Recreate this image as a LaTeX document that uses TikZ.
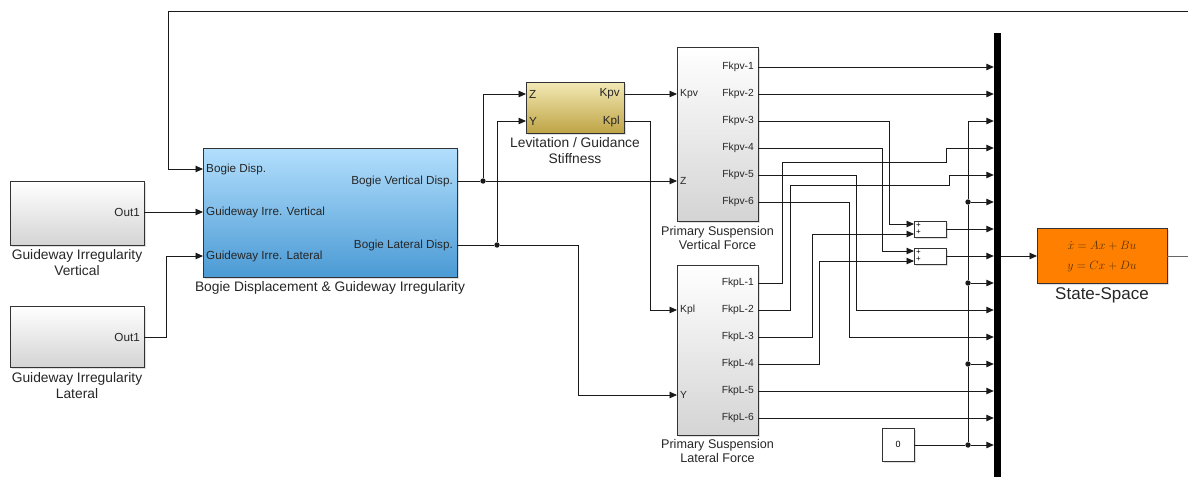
\documentclass[tikz,border=0pt]{standalone}
\usepackage{fontspec}
\setmainfont{Liberation Sans}
\usetikzlibrary{arrows.meta,shadows,calc}
\definecolor{wirec}{HTML}{1A1A1A}
\definecolor{edgec}{HTML}{333333}
\definecolor{grayTop}{HTML}{FFFFFF}
\definecolor{grayBot}{HTML}{D4D4D4}
\definecolor{blueTop}{HTML}{B3DFFD}
\definecolor{blueBot}{HTML}{4A9AD4}
\definecolor{yelTop}{HTML}{F2E9B4}
\definecolor{yelBot}{HTML}{BFA446}
\definecolor{ssOrange}{HTML}{FF8000}
\definecolor{eqc}{HTML}{5A3200}
\definecolor{txtc}{HTML}{262626}
\newcommand\portfont{\fontsize{11.7}{13}\selectfont}
\newcommand\fkfont{\fontsize{10.3}{12}\selectfont}
\newcommand\lblfont{\fontsize{13.8}{16.2}\selectfont}
\begin{document}
\begin{tikzpicture}[x=1pt,y=-1pt,
  blk/.style={draw=edgec, line width=0.9pt, inner sep=0pt, outer sep=0pt,
    drop shadow={shadow xshift=1.5pt, shadow yshift=-1.5pt, opacity=0.25}},
  graybox/.style={blk, top color=grayTop, bottom color=grayBot},
  bluebox/.style={blk, top color=blueTop, bottom color=blueBot},
  yelbox/.style={blk, top color=yelTop, bottom color=yelBot},
  orbox/.style={blk, fill=ssOrange},
  whitebox/.style={blk, fill=white},
  wire/.style={draw=wirec, line width=0.9pt, -{Triangle[length=7.5pt,width=6.5pt]}},
  line/.style={draw=wirec, line width=0.9pt},
  dot/.style={circle, fill=wirec, inner sep=0pt, minimum size=5.4pt},
  pin/.style={inner sep=0pt, anchor=west, text=txtc, font=\portfont},
  pout/.style={inner sep=0pt, anchor=east, text=txtc, font=\portfont},
  fkout/.style={inner sep=0pt, anchor=east, text=txtc, font=\fkfont},
  lbl/.style={inner sep=0pt, anchor=north, align=center, text=txtc, font=\lblfont}
]
\useasboundingbox (0,0) rectangle (1188,477);

% ---------------- blocks ----------------
\node[graybox, minimum width=134pt, minimum height=64pt] (gvert) at (77,213) {};
\node[graybox, minimum width=134pt, minimum height=61pt] (glat) at (77,336.5) {};
\node[bluebox, minimum width=254pt, minimum height=129pt] (bogie) at (330,212.5) {};
\node[yelbox, minimum width=98pt, minimum height=51pt] (lev) at (575,107.5) {};
\node[graybox, minimum width=81pt, minimum height=174pt] (pv) at (717.5,134) {};
\node[graybox, minimum width=81pt, minimum height=170pt] (pl) at (717.5,350) {};
\node[whitebox, minimum width=32pt, minimum height=16pt] (sum1) at (930,229) {};
\node[whitebox, minimum width=32pt, minimum height=16pt] (sum2) at (930,256) {};
\node[whitebox, minimum width=32pt, minimum height=33pt] (zero) at (898,444.5) {\fontsize{9}{10}\selectfont 0};
\node[orbox, minimum width=130pt, minimum height=55pt] (ss) at (1102,255.5) {};
\node[fill=black, inner sep=0pt, minimum width=7pt, minimum height=444pt] (bar) at (997.5,255) {};

% ---------------- block labels ----------------
\node[lbl] (gvertL) at (77,249.5) {Guideway Irregularity\\Vertical};
\node[lbl] (glatL) at (77,372) {Guideway Irregularity\\Lateral};
\node[lbl] (bogieL) at (330,281.5) {Bogie Displacement \& Guideway Irregularity};
\node[lbl] (levL) at (575,137.5) {Levitation / Guidance\\Stiffness};
\node[lbl, font=\fontsize{12.6}{14.5}\selectfont] (pvL) at (717.5,226) {Primary Suspension\\Vertical Force};
\node[lbl, font=\fontsize{12.6}{14.5}\selectfont] (plL) at (717.5,439) {Primary Suspension\\Lateral Force};
\node[lbl, font=\fontsize{17}{18}\selectfont] (ssL) at (1102,287.5) {State-Space};

% equations
\node[inner sep=0pt, align=center, text=eqc, font=\fontsize{12.8}{20}\selectfont] (eq) at (1102,256.5) {$\dot{x} = Ax + Bu$\\$y = Cx + Du$};

% ---------------- port coordinates ----------------
\coordinate (gv-o) at (gvert.east |- 0,212);
\coordinate (gl-o) at (glat.east |- 0,337);
\coordinate (bg-i1) at (bogie.west |- 0,169);
\coordinate (bg-i2) at (bogie.west |- 0,212);
\coordinate (bg-i3) at (bogie.west |- 0,256);
\coordinate (bg-o1) at (bogie.east |- 0,181);
\coordinate (bg-o2) at (bogie.east |- 0,245);
\coordinate (lv-i1) at (lev.west |- 0,94);
\coordinate (lv-i2) at (lev.west |- 0,121);
\coordinate (lv-o1) at (lev.east |- 0,94);
\coordinate (lv-o2) at (lev.east |- 0,121);
\coordinate (pv-i1) at (pv.west |- 0,94);
\coordinate (pv-i2) at (pv.west |- 0,181);
\coordinate (pl-i1) at (pl.west |- 0,310);
\coordinate (pl-i2) at (pl.west |- 0,395);
\foreach \k/\yy in {1/67,2/94,3/121,4/148,5/175,6/202}{
  \coordinate (pv-o\k) at (pv.east |- 0,\yy);
  \node[fkout] (pvt\k) at ($(pv-o\k)+(-4,0)$) {Fkpv-\k};
}
\foreach \k/\yy in {1/283,2/310,3/337,4/364,5/391,6/418}{
  \coordinate (pl-o\k) at (pl.east |- 0,\yy);
  \node[fkout] (plt\k) at ($(pl-o\k)+(-4,0)$) {FkpL-\k};
}
\foreach \k in {1,...,15}{
  \coordinate (mx\k) at (bar.west |- 0,{67+27*(\k-1)});
}
\coordinate (s1-i1) at (sum1.west |- 0,224);
\coordinate (s1-i2) at (sum1.west |- 0,234);
\coordinate (s2-i1) at (sum2.west |- 0,251);
\coordinate (s2-i2) at (sum2.west |- 0,261);
\coordinate (mxout) at (bar.east |- 0,256);
\coordinate (ss-i) at (ss.west |- 0,256);
\coordinate (ss-o) at (ss.east |- 0,256);
\coordinate (rightE) at (1188,256);
\coordinate (topR) at (1188,11);

% ---------------- port labels ----------------
\node[pout] (gvt) at ($(gv-o)+(-4,0)$) {Out1};
\node[pout] (glt) at ($(gl-o)+(-4,0)$) {Out1};
\node[pin] (bgt1) at ($(bg-i1)+(3,0)$) {Bogie Disp.};
\node[pin] (bgt2) at ($(bg-i2)+(3,0)$) {Guideway Irre. Vertical};
\node[pin] (bgt3) at ($(bg-i3)+(3,0)$) {Guideway Irre. Lateral};
\node[pout] (bgt4) at ($(bg-o1)+(-4,0)$) {Bogie Vertical Disp.};
\node[pout] (bgt5) at ($(bg-o2)+(-4,0)$) {Bogie Lateral Disp.};
\node[pin] (lvt1) at ($(lv-i1)+(3,0)$) {Z};
\node[pin] (lvt2) at ($(lv-i2)+(3,0)$) {Y};
\node[pout] (lvt3) at ($(lv-o1)+(-4,0)$) {Kpv};
\node[pout] (lvt4) at ($(lv-o2)+(-4,0)$) {Kpl};
\node[pin, font=\fkfont] (pvt7) at ($(pv-i1)+(3,0)$) {Kpv};
\node[pin, font=\fkfont] (pvt8) at ($(pv-i2)+(3,0)$) {Z};
\node[pin, font=\fkfont] (plt7) at ($(pl-i1)+(3,0)$) {Kpl};
\node[pin, font=\fkfont] (plt8) at ($(pl-i2)+(3,0)$) {Y};
\node[inner sep=0pt, font=\fontsize{8}{8}\selectfont] (s1p1) at ($(sum1.west)+(4.5,-3.8)$) {+};
\node[inner sep=0pt, font=\fontsize{8}{8}\selectfont] (s1p2) at ($(sum1.west)+(4.5,3.2)$) {+};
\node[inner sep=0pt, font=\fontsize{8}{8}\selectfont] (s2p1) at ($(sum2.west)+(4.5,-3.8)$) {+};
\node[inner sep=0pt, font=\fontsize{8}{8}\selectfont] (s2p2) at ($(sum2.west)+(4.5,3.2)$) {+};

% ---------------- connectors ----------------
\draw[wire] (gv-o) -- (bg-i2);
\draw[wire] (gl-o) -- (166,337) |- (bg-i3);
\draw[wire] (topR) -- (168,11) |- (bg-i1);

\node[dot] (j1) at (483,181) {};
\node[dot] (j2) at (497,245) {};
\draw[line] (bg-o1) -- (j1);
\draw[wire] (j1) -- (pv-i2);
\draw[wire] (j1) |- (lv-i1);
\draw[line] (bg-o2) -- (j2);
\draw[wire] (j2) |- (lv-i2);
\draw[wire] (j2) -- (578,245) |- (pl-i2);

\draw[wire] (lv-o1) -- (pv-i1);
\draw[wire] (lv-o2) -- (650,121) |- (pl-i1);

\draw[wire] (pv-o1) -- (mx1);
\draw[wire] (pv-o2) -- (mx2);
\draw[wire] (pv-o3) -- (889,121) |- (s1-i1);
\draw[wire] (pv-o4) -- (882,148) |- (s2-i1);
\draw[wire] (pv-o5) -- (856,175) |- (mx10);
\draw[wire] (pv-o6) -- (849,202) |- (mx11);

\draw[wire] (pl-o1) -- (782,283) -- (782,162) -- (946,162) -- (946,148) -- (mx4);
\draw[wire] (pl-o2) -- (790,310) -- (790,185) -- (949,185) -- (949,175) -- (mx5);
\draw[wire] (pl-o3) -- (812,337) |- (s1-i2);
\draw[wire] (pl-o4) -- (819,364) |- (s2-i2);
\draw[wire] (pl-o5) -- (mx13);
\draw[wire] (pl-o6) -- (mx14);

\draw[wire] (sum1.east |- mx7) -- (mx7);
\draw[wire] (sum2.east |- mx8) -- (mx8);

% zero distribution
\node[dot] (z6) at (968,202) {};
\node[dot] (z9) at (968,283) {};
\node[dot] (z12) at (968,364) {};
\node[dot] (z15) at (968,445) {};
\draw[line] (zero.east |- mx15) -- (z15);
\draw[wire] (z15) -- (mx15);
\draw[line] (z15) -- (z12) -- (z9) -- (z6);
\draw[wire] (z6) |- (mx3);
\draw[wire] (z6) -- (mx6);
\draw[wire] (z9) -- (mx9);
\draw[wire] (z12) -- (mx12);

\draw[wire] (mxout) -- (ss-i);
\draw[line, draw=gray!80!black] (ss-o) -- (rightE);
\end{tikzpicture}
\end{document}
